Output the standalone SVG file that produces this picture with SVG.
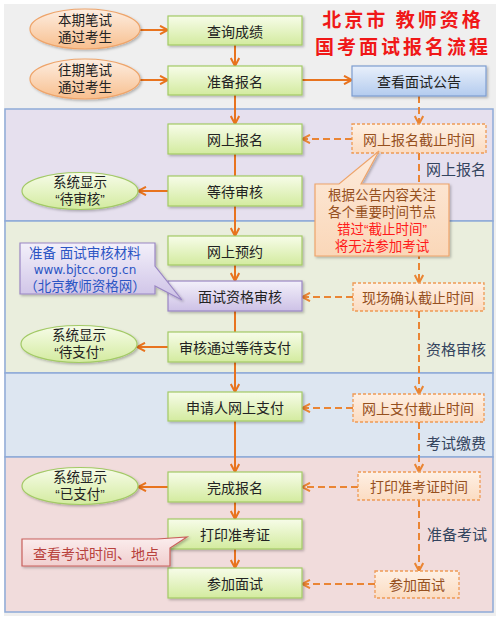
<svg xmlns="http://www.w3.org/2000/svg" width="500" height="621" viewBox="0 0 500 621">
<defs>
<linearGradient id="gGreen" x1="0" y1="0" x2="0" y2="1"><stop offset="0" stop-color="#f7fce9"/><stop offset="1" stop-color="#d3eb9f"/></linearGradient>
<linearGradient id="gPurple" x1="0" y1="0" x2="0" y2="1"><stop offset="0" stop-color="#f3f0fa"/><stop offset="1" stop-color="#cdc1e6"/></linearGradient>
<linearGradient id="gBlue" x1="0" y1="0" x2="0" y2="1"><stop offset="0" stop-color="#e9f0fb"/><stop offset="1" stop-color="#b3cbee"/></linearGradient>
<linearGradient id="gOrange" x1="0" y1="0" x2="0" y2="1"><stop offset="0" stop-color="#fdeee2"/><stop offset="1" stop-color="#f8bf8e"/></linearGradient>
<linearGradient id="gPeach" x1="0" y1="0" x2="0" y2="1"><stop offset="0" stop-color="#fef0e4"/><stop offset="1" stop-color="#fbdcc2"/></linearGradient>
<linearGradient id="gCallO" x1="0" y1="0" x2="0" y2="1"><stop offset="0" stop-color="#fdebdc"/><stop offset="1" stop-color="#fad7b8"/></linearGradient>
<linearGradient id="gRed" x1="0" y1="0" x2="0" y2="1"><stop offset="0" stop-color="#fbeeee"/><stop offset="1" stop-color="#f1cfcf"/></linearGradient>
<filter id="sh" x="-10%" y="-10%" width="125%" height="140%"><feDropShadow dx="1.5" dy="1.5" stdDeviation="1.2" flood-color="#000" flood-opacity="0.25"/></filter>
<marker id="ah" viewBox="0 0 10 10" refX="9" refY="5" markerWidth="10" markerHeight="10" markerUnits="userSpaceOnUse" orient="auto"><path d="M1,0.8 L9,5 L1,9.2" fill="none" stroke="#e8731e" stroke-width="2"/></marker>
<marker id="ahd" viewBox="0 0 10 10" refX="9" refY="5" markerWidth="10" markerHeight="10" markerUnits="userSpaceOnUse" orient="auto"><path d="M1,0.8 L9,5 L1,9.2" fill="none" stroke="#ea8534" stroke-width="2"/></marker>
<style>
.box{fill:url(#gGreen);stroke:#a3ca66;stroke-width:1.2;filter:url(#sh)}
.pbox{fill:url(#gPurple);stroke:#9a86c4;stroke-width:1.2;filter:url(#sh)}
.bbox{fill:url(#gBlue);stroke:#7d9dd0;stroke-width:1.2;filter:url(#sh)}
.oell{fill:url(#gOrange);stroke:#eea46a;stroke-width:1.2;filter:url(#sh)}
.gell{fill:url(#gGreen);stroke:#a3ca66;stroke-width:1.2;filter:url(#sh)}
.dbox{fill:url(#gPeach);stroke:#ee9a55;stroke-width:1.3;stroke-dasharray:3 2}
.t{font-family:"Noto Sans CJK SC","Liberation Sans",sans-serif;font-size:14px;fill:#222;text-anchor:middle;dominant-baseline:central}
.te{font-family:"Liberation Sans","Noto Sans CJK SC",sans-serif;font-size:13.5px;fill:#222;text-anchor:middle;dominant-baseline:central}
.tc{font-family:"Liberation Sans","Noto Sans CJK SC",sans-serif;font-size:13.5px;text-anchor:middle;dominant-baseline:central}
.td{font-family:"Noto Sans CJK SC","Liberation Sans",sans-serif;font-size:14px;fill:#96501e;text-anchor:middle;dominant-baseline:central}
.lab{font-family:"Noto Sans CJK SC","Liberation Sans",sans-serif;font-size:15px;fill:#34445e;dominant-baseline:central}
.ttl{font-family:"Noto Sans CJK SC","Liberation Sans",sans-serif;font-size:19px;font-weight:bold;fill:#f01818;text-anchor:middle;dominant-baseline:central;letter-spacing:3px}
.band{stroke:#8eaad8;stroke-width:1.5}
.c{fill:none;stroke:#e8731e;stroke-width:2;marker-end:url(#ah)}
.cn{fill:none;stroke:#e8731e;stroke-width:2}
.cd{fill:none;stroke:#ea8534;stroke-width:2;stroke-dasharray:7 4;marker-end:url(#ahd)}
</style>
</defs>
<rect x="0" y="0" width="500" height="621" fill="#ffffff"/>
<rect x="4" y="4" width="492" height="612" fill="#efefef"/>
<g id="bands">
<rect class="band" x="5" y="109" width="488" height="112" fill="#e6e0ee"/>
<rect class="band" x="5" y="221" width="488" height="152" fill="#eaeedd"/>
<rect class="band" x="5" y="373" width="488" height="84" fill="#dde6f1"/>
<rect class="band" x="5" y="457" width="488" height="155" fill="#f1dcdc"/>
</g>
<g id="title">
<text class="ttl" x="403" y="18">北京市 教师资格</text>
<text class="ttl" x="403" y="45">国考面试报名流程</text>
</g>
<g id="connectors">
<path class="c" d="M140,30 H168"/>
<path class="c" d="M140,80 H168"/>
<path class="c" d="M235,45 V66"/>
<path class="c" d="M302,80 H352"/>
<path class="c" d="M235,95 V124"/>
<path class="cn" d="M235,154 V176"/>
<path class="c" d="M168,191 H138"/>
<path class="c" d="M235,206 V236"/>
<path class="c" d="M235,265 V281"/>
<path class="cn" d="M235,311 V332"/>
<path class="c" d="M168,347 H137"/>
<path class="c" d="M235,362 V392"/>
<path class="c" d="M235,421 V472"/>
<path class="c" d="M168,487 H138"/>
<path class="c" d="M235,502 V519"/>
<path class="c" d="M235,549 V568"/>
<path class="cd" d="M419,96 V124"/>
<path class="cd" d="M352,139 H302"/>
<path class="cd" d="M419,153 V283"/>
<path class="cd" d="M353,297 H302"/>
<path class="cd" d="M419,311 V394"/>
<path class="cd" d="M353,408 H302"/>
<path class="cd" d="M419,422 V472"/>
<path class="cd" d="M358,487 H302"/>
<path class="cd" d="M419,500 V571"/>
<path class="cd" d="M375,584 H302"/>
</g>
<g id="n-benqi"><ellipse class="oell" cx="85" cy="29" rx="55" ry="20"/><text class="te" x="85" y="20.5">本期笔试</text><text class="te" x="85" y="37.5">通过考生</text></g>
<g id="n-wangqi"><ellipse class="oell" cx="85" cy="79" rx="55" ry="20"/><text class="te" x="85" y="70.5">往期笔试</text><text class="te" x="85" y="87.5">通过考生</text></g>
<g id="n-chaxun"><rect class="box" x="168" y="16" width="134" height="29"/><text class="t" x="235" y="30.5">查询成绩</text></g>
<g id="n-zhunbei"><rect class="box" x="168" y="66" width="134" height="29"/><text class="t" x="235" y="80.5">准备报名</text></g>
<g id="n-gonggao"><rect class="bbox" x="352" y="66" width="134" height="30"/><text class="t" x="419" y="81">查看面试公告</text></g>
<g id="n-wsbm"><rect class="box" x="168" y="124" width="134" height="30"/><text class="t" x="235" y="139">网上报名</text></g>
<g id="n-ddsh"><rect class="box" x="168" y="176" width="134" height="30"/><text class="t" x="235" y="191">等待审核</text></g>
<g id="n-dsh"><ellipse class="gell" cx="80" cy="191" rx="58" ry="18.5"/><text class="te" x="80" y="182.5">系统显示</text><text class="te" x="80" y="199.5">“待审核”</text></g>
<g id="n-wsyy"><rect class="box" x="168" y="236" width="134" height="29"/><text class="t" x="235" y="250.5">网上预约</text></g>
<g id="n-zgsh"><rect class="pbox" x="168" y="281" width="134" height="30"/><text class="t" x="240" y="296">面试资格审核</text></g>
<g id="n-shtg"><rect class="box" x="168" y="332" width="134" height="30"/><text class="t" x="235" y="347">审核通过等待支付</text></g>
<g id="n-dzf"><ellipse class="gell" cx="79" cy="344" rx="58" ry="18.5"/><text class="te" x="79" y="335.5">系统显示</text><text class="te" x="79" y="352.5">“待支付”</text></g>
<g id="n-wszf"><rect class="box" x="168" y="392" width="134" height="29"/><text class="t" x="235" y="406.5">申请人网上支付</text></g>
<g id="n-wcbm"><rect class="box" x="168" y="472" width="134" height="30"/><text class="t" x="235" y="487">完成报名</text></g>
<g id="n-yzf"><ellipse class="gell" cx="80" cy="486" rx="58" ry="18.5"/><text class="te" x="80" y="477.5">系统显示</text><text class="te" x="80" y="494.5">“已支付”</text></g>
<g id="n-dyzkz"><rect class="box" x="168" y="519" width="134" height="30"/><text class="t" x="235" y="534">打印准考证</text></g>
<g id="n-cjms"><rect class="box" x="168" y="568" width="134" height="30"/><text class="t" x="235" y="583">参加面试</text></g>
<g id="d-wsbmjz"><rect class="dbox" x="352" y="124" width="134" height="29"/><text class="td" x="419" y="138.5">网上报名截止时间</text></g>
<g id="d-xcqr"><rect class="dbox" x="353" y="283" width="131" height="28"/><text class="td" x="418" y="297">现场确认截止时间</text></g>
<g id="d-wszf"><rect class="dbox" x="353" y="394" width="131" height="28"/><text class="td" x="418" y="408">网上支付截止时间</text></g>
<g id="d-dyzkz"><rect class="dbox" x="358" y="472" width="122" height="28"/><text class="td" x="419" y="486">打印准考证时间</text></g>
<g id="d-cjms"><rect class="dbox" x="375" y="571" width="84" height="27"/><text class="td" x="417" y="584">参加面试</text></g>
<g id="labels">
<text class="lab" x="426" y="168">网上报名</text>
<text class="lab" x="426" y="348">资格审核</text>
<text class="lab" x="426" y="442">考试缴费</text>
<text class="lab" x="427" y="533">准备考试</text>
</g>
<g id="callout-notice">
<path d="M315,184 H339 L379,151 L361,184 H449 V256 H315 Z" fill="url(#gCallO)" stroke="#eea46a" stroke-width="1.2" filter="url(#sh)"/>
<text class="tc" x="382" y="195" style="fill:#96501e">根据公告内容关注</text>
<text class="tc" x="382" y="212" style="fill:#96501e">各个重要时间节点</text>
<text class="tc" x="382" y="229" style="fill:#ff1a1a">错过“截止时间”</text>
<text class="tc" x="382" y="246" style="fill:#ff1a1a">将无法参加考试</text>
</g>
<g id="callout-material">
<path d="M20,243 H155 V266 L182,300 L155,286 V294 H20 Z" fill="url(#gPurple)" stroke="#9a86c4" stroke-width="1.2" filter="url(#sh)"/>
<text class="tc" x="85" y="253" style="fill:#2b55c4">准备 面试审核材料</text>
<text class="tc" x="85" y="270" style="fill:#2b55c4;font-family:'DejaVu Sans','Liberation Sans',sans-serif;font-size:12px">www.bjtcc.org.cn</text>
<text class="tc" x="85" y="286" style="fill:#2b55c4">（北京教师资格网）</text>
</g>
<g id="callout-time">
<path d="M22,539 H157 L187,537 L170,548 V566 H22 Z" fill="url(#gRed)" stroke="#c9605c" stroke-width="1.2" filter="url(#sh)"/>
<text class="t" x="96" y="553" style="fill:#b8413c">查看考试时间、地点</text>
</g>
</svg>
